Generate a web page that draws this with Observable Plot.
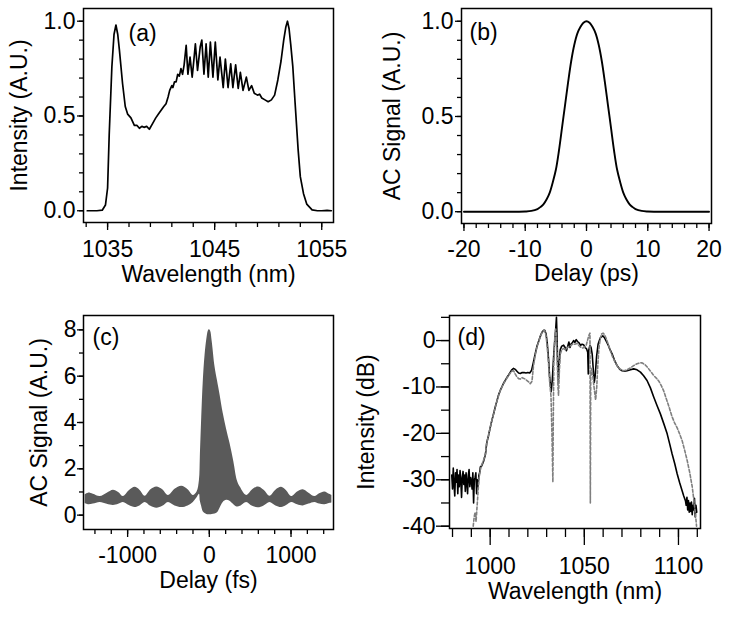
<!DOCTYPE html>
<html><head><meta charset="utf-8">
<script src="https://cdn.jsdelivr.net/npm/d3@7"></script>
<script src="https://cdn.jsdelivr.net/npm/@observablehq/plot@0.6"></script>
<style>
body{margin:0;background:#fff}
#wrap{position:relative;width:729px;height:624px;overflow:hidden;background:#fff}
#wrap > div{position:absolute}
</style></head><body><div id="wrap"></div>
<script>
const aSpectrum = [
[1033.1,0.0],[1034.0,0.0],[1034.5,0.003],[1034.8,0.03],[1035.0,0.12],[1035.15,0.40],[1035.4,0.76],
[1035.6,0.93],[1035.78,0.98],[1035.95,0.93],[1036.1,0.85],[1036.4,0.67],[1036.65,0.55],[1036.87,0.51],
[1037.18,0.49],[1037.5,0.45],[1037.75,0.45],[1037.97,0.435],[1038.2,0.445],[1038.4,0.44],[1038.65,0.445],
[1038.9,0.43],[1039.2,0.46],[1039.5,0.49],[1039.75,0.51],[1040.0,0.53],[1040.25,0.55],[1040.46,0.565],
[1040.65,0.60],[1040.8,0.635],[1041.0,0.66],[1041.1,0.65],[1041.25,0.68],[1041.4,0.68],[1041.55,0.72],
[1041.7,0.71],[1041.85,0.75],[1042.0,0.72],[1042.15,0.77],[1042.34,0.873],[1042.5,0.72],[1042.7,0.81],
[1042.9,0.705],[1043.05,0.79],[1043.2,0.88],[1043.4,0.74],[1043.52,0.80],[1043.65,0.865],[1043.8,0.90],
[1044.0,0.72],[1044.2,0.88],[1044.4,0.705],[1044.6,0.89],[1044.84,0.705],[1045.06,0.89],[1045.3,0.69],
[1045.5,0.81],[1045.8,0.65],[1046.0,0.80],[1046.25,0.65],[1046.5,0.775],[1046.7,0.65],[1046.96,0.77],
[1047.2,0.645],[1047.4,0.73],[1047.65,0.635],[1047.96,0.705],[1048.2,0.635],[1048.45,0.66],[1048.7,0.62],
[1049.0,0.61],[1049.2,0.615],[1049.4,0.595],[1049.7,0.585],[1050.0,0.575],[1050.3,0.585],[1050.6,0.61],
[1050.9,0.69],[1051.2,0.79],[1051.45,0.90],[1051.65,0.97],[1051.8,1.0],[1051.95,0.96],[1052.1,0.88],
[1052.3,0.76],[1052.5,0.58],[1052.8,0.32],[1053.0,0.18],[1053.3,0.09],[1053.6,0.035],[1054.1,0.005],
[1054.6,0.0],[1055.0,0.0],[1055.5,0.002],[1055.9,0.0]
];
const aXMajor = [1035, 1045, 1055];
const aXMinor = [1033,1035,1037,1039,1041,1043,1045,1047,1049,1051,1053,1055];
const aYMajor = [0, 0.5, 1.0];
const aYMinor = [0,0.1,0.2,0.3,0.4,0.5,0.6,0.7,0.8,0.9,1.0];

const bAutocorr = [
[-20,0],[-15,0],[-12,0],[-10,0.001],[-9,0.004],[-8,0.014],[-7.5,0.025],[-7,0.04],[-6.5,0.065],
[-6,0.10],[-5.5,0.155],[-5,0.22],[-4.5,0.32],[-4,0.44],[-3.5,0.56],[-3,0.68],[-2.5,0.79],[-2,0.875],
[-1.5,0.935],[-1,0.97],[-0.5,0.992],[0,1.0],[0.5,0.992],[1,0.97],[1.5,0.935],[2,0.875],[2.5,0.79],
[3,0.68],[3.5,0.56],[4,0.44],[4.5,0.32],[5,0.22],[5.5,0.155],[6,0.10],[6.5,0.065],[7,0.04],[7.5,0.025],
[8,0.014],[9,0.004],[10,0.001],[12,0],[15,0],[20,0]
];
const bXMajor = [-20,-10,0,10,20];
const bXMinor = [-20,-18,-16,-14,-12,-10,-8,-6,-4,-2,0,2,4,6,8,10,12,14,16,18,20];
const bYMajor = [0, 0.5, 1.0];
const bYMinor = [0,0.1,0.2,0.3,0.4,0.5,0.6,0.7,0.8,0.9,1.0];

const cEnvelope = [
[-1520,0.50,0.88],[-1478,0.45,0.95],[-1420,0.48,0.90],[-1336,0.55,0.80],[-1250,0.47,0.95],
[-1174,0.42,1.08],[-1110,0.47,0.98],[-1051,0.55,0.80],[-980,0.42,1.05],[-908,0.33,1.20],
[-850,0.40,1.08],[-786,0.55,0.82],[-715,0.38,1.10],[-643,0.30,1.22],[-570,0.38,1.10],
[-501,0.55,0.85],[-420,0.40,1.12],[-337,0.33,1.25],[-260,0.40,1.10],[-196,0.55,0.85],
[-150,0.75,1.00],[-121,0.90,1.50],[-110,0.60,2.50],[-93,0.36,4.20],[-75,0.15,5.70],[-52,0.07,6.90],
[-30,0.03,7.60],[-12,0.02,7.95],[0,0.02,8.00],[15,0.02,7.95],[35,0.03,7.50],[70,0.05,6.40],
[100,0.10,5.80],[131,0.30,5.20],[170,0.55,4.40],[212,0.64,3.70],[253,0.60,3.10],[300,0.45,2.30],
[342,0.35,1.50],[380,0.38,1.20],[457,0.55,0.85],[530,0.38,1.10],[599,0.32,1.22],[670,0.40,1.08],
[742,0.55,0.82],[815,0.40,1.08],[885,0.33,1.20],[945,0.42,1.05],[1007,0.55,0.80],[1080,0.45,1.00],
[1149,0.40,1.10],[1220,0.48,0.95],[1292,0.55,0.80],[1350,0.48,0.92],[1414,0.45,1.00],[1470,0.50,0.90],
[1500,0.52,0.85]
];
const cXMajor = [-1000, 0, 1000];
const cXMinor = [-1400,-1200,-1000,-800,-600,-400,-200,0,200,400,600,800,1000,1200,1400];
const cYMajor = [0,2,4,6,8];
const cYMinor = [0,1,2,3,4,5,6,7,8];

const dMeasured = [
[979.6,-29.0],[980.0,-32.0],[980.4,-27.5],[980.8,-31.0],[981.2,-33.5],[981.6,-28.5],[982.0,-30.5],
[982.4,-27.8],[982.8,-33.0],[983.2,-29.0],[983.6,-31.5],[984.0,-28.0],[984.4,-30.0],[984.8,-33.8],
[985.2,-29.5],[985.6,-28.2],[986.0,-31.0],[986.4,-29.0],[986.8,-32.5],[987.2,-28.5],[987.6,-30.5],
[988.0,-33.0],[988.4,-29.0],[988.8,-27.8],[989.2,-31.5],[989.6,-29.5],[990.0,-30.2],[990.4,-32.0],
[990.8,-28.5],[991.2,-35.0],[991.6,-30.0],[992.0,-29.5],[992.4,-28.5],[992.8,-33.0],[993.2,-30.0],
[993.6,-31.5],[994.0,-29.0],[994.4,-28.5],[994.8,-27.2],[995.5,-27.0],[996.5,-26.0],[997.5,-24.5],
[998.2,-22.0],[999.1,-20.5],[1000.0,-18.8],[1000.9,-17.2],[1002.0,-15.5],[1002.7,-14.3],[1003.6,-13.0],
[1004.4,-11.8],[1005.3,-10.8],[1006.2,-10.0],[1007.1,-9.2],[1008.0,-8.6],[1009.0,-7.9],[1009.8,-7.4],
[1010.7,-6.8],[1011.5,-6.3],[1012.4,-6.0],[1013.3,-6.2],[1014.2,-6.6],[1015.1,-7.0],[1016.0,-7.1],
[1017.0,-6.9],[1018.0,-6.9],[1019.0,-7.0],[1020.0,-6.9],[1021.0,-7.0],[1022.0,-6.4],[1023.0,-4.6],
[1023.9,-2.9],[1024.8,-1.3],[1025.7,-0.2],[1026.6,0.9],[1027.5,1.8],[1028.4,2.2],[1029.0,2.2],
[1029.7,1.4],[1030.3,-0.5],[1031.0,-4.0],[1031.6,-8.0],[1032.4,-11.0],[1033.0,-8.5],[1033.7,-3.5],
[1034.3,0.0],[1034.8,2.5],[1035.2,5.0],[1035.5,1.0],[1035.8,-4.5],[1036.2,-8.8],[1036.6,-5.5],
[1037.2,-2.0],[1038.0,-1.2],[1039.0,-1.0],[1039.8,-1.5],[1040.5,-2.2],[1041.2,-1.2],[1041.8,-0.3],
[1042.4,-1.5],[1043.0,-0.7],[1043.6,-0.5],[1044.3,0.0],[1045.0,-0.4],[1045.7,0.2],[1046.4,-0.2],
[1047.2,-0.5],[1048.0,-1.0],[1048.8,-0.8],[1049.6,-0.9],[1050.4,-1.5],[1051.2,-1.8],[1051.8,-2.5],
[1052.1,-7.2],[1052.4,-2.0],[1053.0,-1.0],[1053.6,-1.5],[1054.2,-3.0],[1054.8,-6.5],[1055.3,-9.0],
[1055.8,-7.5],[1056.5,-3.5],[1057.3,-0.8],[1058.5,0.6],[1059.8,1.0],[1060.6,0.7],[1061.5,0.0],
[1062.5,-0.8],[1063.5,-1.8],[1064.8,-2.9],[1066.0,-4.2],[1067.4,-5.4],[1068.8,-6.2],[1070.1,-6.5],
[1071.4,-6.6],[1072.7,-6.5],[1074.5,-6.3],[1076.2,-6.1],[1078.0,-6.3],[1079.8,-6.8],[1081.5,-7.6],
[1083.3,-8.6],[1085.1,-10.2],[1086.9,-12.2],[1088.6,-14.0],[1090.4,-15.8],[1092.2,-17.9],[1094.0,-20.1],
[1095.3,-22.2],[1096.6,-24.4],[1098.0,-26.5],[1099.3,-28.7],[1100.6,-30.6],[1101.9,-32.3],[1102.8,-33.5],
[1103.7,-34.5],[1104.1,-35.5],[1104.5,-33.8],[1104.9,-36.5],[1105.3,-34.5],[1105.7,-37.0],[1106.1,-35.0],
[1106.5,-36.8],[1106.9,-34.8],[1107.3,-37.5],[1107.7,-35.5],[1108.1,-36.5],[1108.5,-34.0],[1108.9,-38.0],
[1109.3,-35.5],[1109.7,-37.0]
];
const dSimulated = [
[991.0,-40.0],[991.5,-38.0],[992.0,-37.0],[992.5,-39.0],[993.0,-36.0],[993.5,-33.0],[994.0,-30.0],
[994.7,-28.0],[995.5,-26.8],[996.5,-25.8],[997.5,-24.3],[998.2,-22.0],[999.1,-20.5],[1000.0,-18.8],
[1000.9,-17.2],[1002.0,-15.5],[1003.6,-13.0],[1005.3,-10.8],[1007.1,-9.3],[1009.0,-8.0],[1010.7,-7.0],
[1011.5,-6.6],[1012.4,-6.5],[1013.3,-7.2],[1014.2,-7.8],[1015.1,-8.2],[1016.0,-8.3],[1017.0,-8.0],
[1018.6,-8.3],[1020.4,-8.9],[1021.3,-9.3],[1022.2,-8.8],[1023.0,-5.5],[1023.9,-3.2],[1024.8,-1.5],
[1025.7,-0.3],[1026.6,0.8],[1027.5,1.7],[1028.4,2.1],[1029.0,2.1],[1029.7,1.0],[1030.3,-1.5],
[1031.0,-5.0],[1031.6,-9.0],[1032.3,-12.0],[1032.8,-20.0],[1033.3,-30.5],[1033.5,-18.0],[1033.8,-5.0],
[1034.3,0.5],[1034.8,2.5],[1035.2,1.0],[1035.6,-4.0],[1036.0,-10.0],[1036.3,-11.8],[1036.7,-7.0],
[1037.2,-3.0],[1038.0,-2.0],[1039.0,-1.7],[1040.0,-2.0],[1041.0,-1.5],[1042.0,-1.3],[1043.0,-1.0],
[1044.0,-0.7],[1045.0,-0.8],[1046.0,-0.6],[1047.0,-1.0],[1048.0,-1.4],[1049.0,-1.6],[1050.0,-1.5],
[1051.0,-1.0],[1051.8,0.2],[1052.5,1.2],[1053.0,1.6],[1053.2,-35.0],[1053.4,-8.0],[1054.0,-6.0],
[1054.6,-8.0],[1055.3,-10.5],[1056.0,-12.8],[1056.6,-10.0],[1057.2,-5.0],[1057.8,-1.5],[1058.5,0.5],
[1059.2,1.4],[1060.0,1.6],[1060.8,1.2],[1061.7,0.4],[1062.7,-0.8],[1063.8,-2.2],[1065.0,-3.5],
[1066.5,-4.8],[1068.0,-5.8],[1069.5,-6.3],[1071.0,-6.5],[1072.7,-6.3],[1074.5,-5.9],[1076.2,-5.4],
[1078.0,-5.0],[1079.5,-4.8],[1080.7,-4.8],[1082.5,-5.3],[1084.0,-6.0],[1085.5,-6.8],[1087.0,-7.6],
[1088.5,-8.2],[1089.5,-8.7],[1091.0,-9.8],[1092.2,-10.9],[1093.5,-12.5],[1095.0,-14.3],[1096.5,-16.3],
[1098.0,-17.8],[1099.3,-18.8],[1100.5,-20.0],[1101.9,-21.5],[1103.2,-23.5],[1104.6,-25.8],[1106.0,-28.5],
[1107.3,-31.5],[1108.2,-34.5],[1109.0,-37.3],[1109.6,-40.0]
];
const dXMajor = [1000, 1050, 1100];
const dXMinor = [980,990,1000,1010,1020,1030,1040,1050,1060,1070,1080,1090,1100,1110];
const dYMajor = [-40,-30,-20,-10,0];
const dYMinor = [-40,-35,-30,-25,-20,-15,-10,-5,0,5];

const labels = {
  a: {tag: "(a)", x: "Wavelength (nm)", y: "Intensity (A.U.)"},
  b: {tag: "(b)", x: "Delay (ps)", y: "AC Signal (A.U.)"},
  c: {tag: "(c)", x: "Delay (fs)", y: "AC Signal (A.U.)"},
  d: {tag: "(d)", x: "Wavelength (nm)", y: "Intensity (dB)"}
};

const FONT = "'Liberation Sans', Arial, Helvetica, sans-serif";
const fmt1 = d => d.toFixed(1);
const fmtI = d => String(d);
const blank = () => "";

function axes(o) {
  return [
    Plot.axisX(o.xMinor, {tickSize: o.xMinorSize, tickFormat: blank, strokeWidth: 1.3, label: null}),
    Plot.axisX(o.xMajor, {tickSize: o.xMajorSize, tickPadding: o.xPad, tickFormat: fmtI, strokeWidth: 1.3, label: null, fontSize: 23}),
    Plot.axisY(o.yMinor, {tickSize: o.yMinorSize, tickFormat: blank, strokeWidth: 1.3, label: null}),
    Plot.axisY(o.yMajor, {tickSize: o.yMajorSize, tickPadding: o.yPad, tickFormat: o.yFmt, strokeWidth: 1.3, label: null, fontSize: 23})
  ];
}
function texts(L, o) {
  return [
    Plot.text([L.tag], {frameAnchor: "top-left", dx: o.tagDx, dy: o.tagDy, textAnchor: "start", lineAnchor: "middle", fontSize: 23}),
    Plot.text([L.x], {frameAnchor: "bottom", dy: o.xLabDy, textAnchor: "middle", lineAnchor: "middle", fontSize: 23}),
    Plot.text([L.y], {frameAnchor: "left", rotate: -90, dx: o.yLabDx, textAnchor: "middle", lineAnchor: "middle", fontSize: 23})
  ];
}
function place(svg, left, top, w, h) {
  const div = document.createElement("div");
  div.style.left = left + "px"; div.style.top = top + "px";
  div.style.width = w + "px"; div.style.height = h + "px";
  div.appendChild(svg);
  document.getElementById("wrap").appendChild(div);
  return svg;
}
const style = {fontFamily: FONT, fontSize: "23px", background: "transparent", color: "black", overflow: "visible"};

place(Plot.plot({
  width: 364, height: 300, marginLeft: 83, marginRight: 31, marginTop: 8, marginBottom: 78, style,
  x: {domain: [1032.75, 1056.1]}, y: {domain: [-0.062, 1.067]},
  marks: [
    ...axes({xMinor: aXMinor, xMajor: aXMajor, yMinor: aYMinor, yMajor: aYMajor, xMinorSize: 5, xMajorSize: 8, xPad: 10, yMinorSize: 4, yMajorSize: 6, yPad: 2, yFmt: fmt1}),
    Plot.line(aSpectrum, {x: d => d[0], y: d => d[1], stroke: "black", strokeWidth: 1.7}),
    Plot.frame({stroke: "black", strokeWidth: 1.5}),
    ...texts(labels.a, {tagDx: 45, tagDy: 25, xLabDy: 52, yLabDx: -64})
  ]
}), 0, 0, 364, 300);

place(Plot.plot({
  width: 365, height: 300, marginLeft: 97, marginRight: 18, marginTop: 8, marginBottom: 77, style,
  x: {domain: [-20.4, 20.4]}, y: {domain: [-0.062, 1.067]},
  marks: [
    ...axes({xMinor: bXMinor, xMajor: bXMajor, yMinor: bYMinor, yMajor: bYMajor, xMinorSize: 5, xMajorSize: 8, xPad: 9, yMinorSize: 4, yMajorSize: 6, yPad: 2, yFmt: fmt1}),
    Plot.line(bAutocorr, {x: d => d[0], y: d => d[1], stroke: "black", strokeWidth: 1.9, curve: "catmull-rom"}),
    Plot.frame({stroke: "black", strokeWidth: 1.5}),
    ...texts(labels.b, {tagDx: 8, tagDy: 24, xLabDy: 50, yLabDx: -69})
  ]
}), 364, 0, 365, 300);

place(Plot.plot({
  width: 364, height: 324, marginLeft: 83, marginRight: 31, marginTop: 15, marginBottom: 95, style,
  x: {domain: [-1540, 1520]}, y: {domain: [-0.62, 8.62]},
  marks: [
    ...axes({xMinor: cXMinor, xMajor: cXMajor, yMinor: cYMinor, yMajor: cYMajor, xMinorSize: 5, xMajorSize: 8, xPad: 9, yMinorSize: 4, yMajorSize: 6, yPad: 1, yFmt: fmtI}),
    Plot.areaY(cEnvelope, {x: d => d[0], y1: d => d[1], y2: d => d[2], fill: "#5a5a5a", curve: "catmull-rom"}),
    Plot.frame({stroke: "black", strokeWidth: 1.5}),
    ...texts(labels.c, {tagDx: 9, tagDy: 22, xLabDy: 51, yLabDx: -44})
  ]
}), 0, 300, 364, 324);

place(Plot.plot({
  width: 365, height: 324, marginLeft: 85, marginRight: 29, marginTop: 15, marginBottom: 96, style,
  x: {domain: [978.4, 1111.7]}, y: {domain: [-40.5, 5.4]},
  marks: [
    ...axes({xMinor: dXMinor, xMajor: dXMajor, yMinor: dYMinor, yMajor: dYMajor, xMinorSize: 9, xMajorSize: 17, xPad: 12, yMinorSize: 8, yMajorSize: 13, yPad: 1, yFmt: fmtI}),
    Plot.line(dMeasured, {x: d => d[0], y: d => d[1], stroke: "black", strokeWidth: 1.6}),
    Plot.line(dSimulated, {x: d => d[0], y: d => d[1], stroke: "#7f7f7f", strokeWidth: 1.6, strokeDasharray: "3,2"}),
    Plot.frame({stroke: "black", strokeWidth: 1.5}),
    ...texts(labels.d, {tagDx: 8, tagDy: 22, xLabDy: 63, yLabDx: -83})
  ]
}), 364, 300, 365, 324);
</script></body></html>
